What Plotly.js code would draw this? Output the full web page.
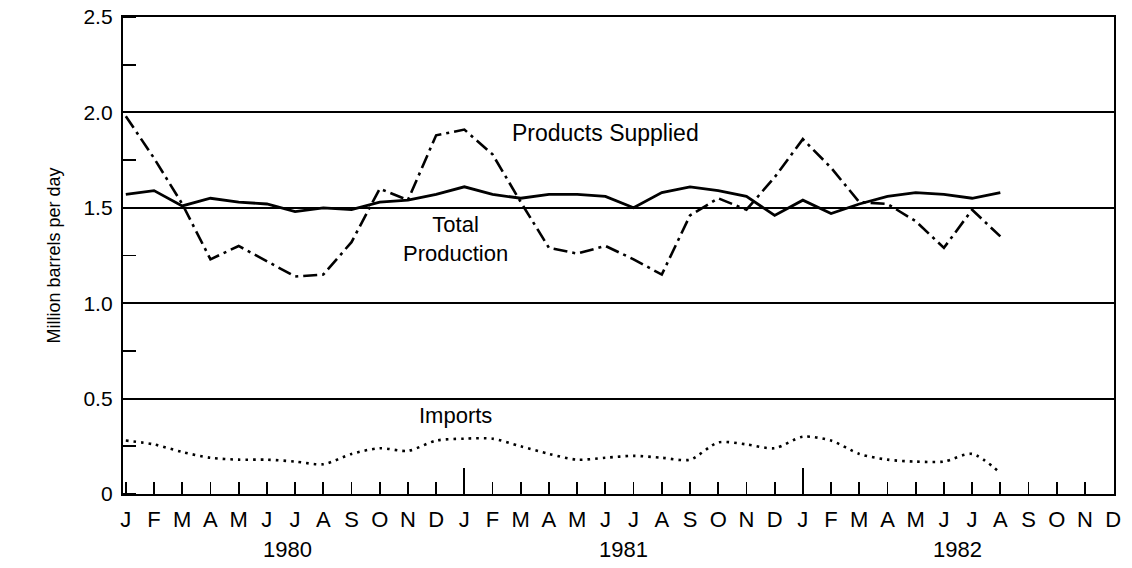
<!DOCTYPE html>
<html>
<head>
<meta charset="utf-8">
<script src="https://cdn.plot.ly/plotly-3.0.1.min.js"></script>
<style>
  html, body { margin: 0; padding: 0; background: #fff; }
  #chart { width: 1132px; height: 568px; }
</style>
</head>
<body>
<div id="chart"></div>
<script>
// Month index 0 = Jan 1980 ... 35 = Dec 1982
const monthLabels = ["J","F","M","A","M","J","J","A","S","O","N","D",
                     "J","F","M","A","M","J","J","A","S","O","N","D",
                     "J","F","M","A","M","J","J","A","S","O","N","D"];
const yearLabels = ["1980", "1981", "1982"];

// Jan 1980 .. Aug 1982 (32 months)
const productsSupplied = [1.98, 1.76, 1.52, 1.23, 1.30, 1.22, 1.14, 1.15, 1.32, 1.60, 1.54, 1.88,
                          1.91, 1.78, 1.53, 1.29, 1.26, 1.30, 1.23, 1.15, 1.46, 1.55, 1.49, 1.66,
                          1.86, 1.71, 1.53, 1.52, 1.43, 1.29, 1.49, 1.35];
const totalProduction = [1.57, 1.59, 1.51, 1.55, 1.53, 1.52, 1.48, 1.50, 1.49, 1.53, 1.54, 1.57,
                         1.61, 1.57, 1.55, 1.57, 1.57, 1.56, 1.50, 1.58, 1.61, 1.59, 1.56, 1.46,
                         1.54, 1.47, 1.52, 1.56, 1.58, 1.57, 1.55, 1.58];
const imports = [0.28, 0.26, 0.22, 0.19, 0.18, 0.18, 0.17, 0.156, 0.21, 0.24, 0.226, 0.28,
                 0.29, 0.29, 0.25, 0.21, 0.18, 0.19, 0.20, 0.19, 0.18, 0.27, 0.26, 0.24,
                 0.30, 0.28, 0.21, 0.18, 0.17, 0.17, 0.21, 0.11];

const yTickVals = [0, 0.5, 1.0, 1.5, 2.0, 2.5];
const yTickText = ["0", "0.5", "1.0", "1.5", "2.0", "2.5"];

const months = monthLabels.map((_, i) => i);
const dataMonths = productsSupplied.map((_, i) => i);

const FONT = "Liberation Sans, Arial, Helvetica, sans-serif";

const traces = [
  {
    x: dataMonths, y: productsSupplied, type: "scatter", mode: "lines",
    name: "Products Supplied",
    line: { color: "#000", width: 2.6, dash: "14px,5px,3px,5px" }
  },
  {
    x: dataMonths, y: totalProduction, type: "scatter", mode: "lines",
    name: "Total Production",
    line: { color: "#000", width: 2.8 }
  },
  {
    x: dataMonths, y: imports, type: "scatter", mode: "lines",
    name: "Imports",
    line: { color: "#000", width: 2.6, dash: "2.6px,5px", shape: "spline", smoothing: 0.8 }
  },
  // invisible trace on the overlay axis so it renders (year-start long ticks)
  {
    x: [0, 35], y: [0, 0], xaxis: "x2", type: "scatter", mode: "lines",
    line: { color: "rgba(0,0,0,0)", width: 0 }, hoverinfo: "skip", showlegend: false
  }
];

const layout = {
  width: 1132, height: 568,
  paper_bgcolor: "#fff", plot_bgcolor: "#fff",
  margin: { l: 123, r: 18, t: 17, b: 74 },
  showlegend: false,
  font: { family: FONT, color: "#000", size: 20 },
  xaxis: {
    range: [-0.1, 35.03],
    tickmode: "array",
    tickvals: months,
    ticktext: monthLabels,
    ticks: "inside", ticklen: 12, tickwidth: 1.8, tickcolor: "#000",
    showgrid: false, zeroline: false,
    showline: true, linecolor: "#000", linewidth: 2.2, mirror: true,
    tickfont: { family: FONT, size: 22, color: "#000" },
    ticklabelstandoff: 4
  },
  xaxis2: {
    overlaying: "x", matches: "x", side: "bottom",
    range: [-0.1, 35.03],
    tickmode: "array", tickvals: [12, 24],
    ticks: "inside", ticklen: 26, tickwidth: 1.8, tickcolor: "#000",
    showticklabels: false, showgrid: false, zeroline: false, showline: false
  },
  yaxis: {
    range: [0, 2.5],
    tickmode: "array",
    tickvals: yTickVals, ticktext: yTickText,
    ticks: "", showgrid: true, gridcolor: "#000", gridwidth: 2,
    zeroline: false,
    showline: true, linecolor: "#000", linewidth: 2.2, mirror: true,
    tickfont: { family: FONT, size: 21, color: "#000" },
    ticklabelstandoff: 4,
    minor: { dtick: 0.25, tick0: 0, ticks: "inside", ticklen: 13, tickwidth: 1.8, tickcolor: "#000", showgrid: false },
    title: { text: "Million barrels per day", font: { family: FONT, size: 18, color: "#000" }, standoff: 18 }
  },
  annotations: [
    { text: "Products Supplied", x: 17.0, y: 1.89, xref: "x", yref: "y",
      showarrow: false, font: { family: FONT, size: 23, color: "#000" } },
    { text: "Total<br>Production", x: 11.67, y: 1.336, xref: "x", yref: "y",
      showarrow: false, font: { family: FONT, size: 22, color: "#000" } },
    { text: "Imports", x: 11.67, y: 0.41, xref: "x", yref: "y",
      showarrow: false, font: { family: FONT, size: 22, color: "#000" } },
    { text: yearLabels[0], x: 5.72, y: -0.117, xref: "x", yref: "paper", yanchor: "middle",
      showarrow: false, font: { family: FONT, size: 22, color: "#000" } },
    { text: yearLabels[1], x: 17.63, y: -0.117, xref: "x", yref: "paper", yanchor: "middle",
      showarrow: false, font: { family: FONT, size: 22, color: "#000" } },
    { text: yearLabels[2], x: 29.47, y: -0.117, xref: "x", yref: "paper", yanchor: "middle",
      showarrow: false, font: { family: FONT, size: 22, color: "#000" } }
  ]
};

Plotly.newPlot("chart", traces, layout, { staticPlot: true, displayModeBar: false });
</script>
</body>
</html>
